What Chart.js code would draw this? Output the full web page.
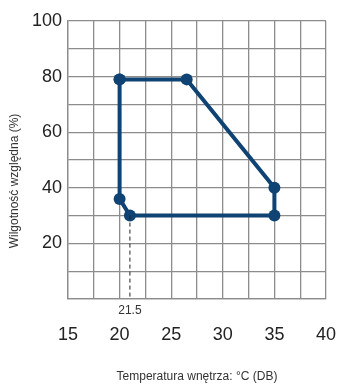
<!DOCTYPE html>
<html>
<head>
<meta charset="utf-8">
<script src="https://cdn.jsdelivr.net/npm/chart.js@4"></script>
<style>
  body { margin: 0; background: #fff; }
  #wrap { width: 337px; height: 385px; position: relative; }
</style>
</head>
<body>
<div id="wrap"><canvas id="chart"></canvas></div>
<script>
// polygon of the allowed operating range (closed loop)
const tempValues = [20, 26.5, 35, 35, 21, 20, 20];
const humidityValues = [79, 79, 40, 30, 30, 36, 79];
// marker for the 21.5 annotation
const markTemp = 21;
const markLabel = "21.5";
const markTop = 30;
// tick labels
const xTickLabels = [15, 20, 25, 30, 35, 40];
const yTickLabels = [20, 40, 60, 80, 100];

const yTitle = "Wilgotność względna (%)";
const xTitle = "Temperatura wnętrza: °C (DB)";

const lineColor = "#0f4373";
const gridColor = "#8c8c8c";

const outline = tempValues.map((t, i) => ({ x: t, y: humidityValues[i] }));

// extra texts: the 21.5 label and the axis titles
const textPlugin = {
    id: "texts",
    afterDraw(chart) {
        const ctx = chart.ctx;
        const xs = chart.scales.x;
        const area = chart.chartArea;
        ctx.save();
        ctx.fillStyle = "#333";
        ctx.textAlign = "center";
        ctx.textBaseline = "middle";
        ctx.font = "12px 'Liberation Sans', Arial, sans-serif";
        ctx.fillText(markLabel, xs.getPixelForValue(markTemp), area.bottom + 12);

        ctx.font = "12px 'Liberation Sans Narrow', 'Liberation Sans', sans-serif";
        ctx.fillText(xTitle, (area.left + area.right) / 2, 377);

        ctx.translate(15, 181);
        ctx.rotate(-Math.PI / 2);
        ctx.fillText(yTitle, 0, 0);
        ctx.restore();
    }
};

new Chart(document.getElementById("chart"), {
    type: "scatter",
    data: {
        datasets: [
            {
                data: [{ x: markTemp, y: markTop }, { x: markTemp, y: 0 }],
                showLine: true,
                borderColor: "#222",
                borderWidth: 1,
                borderDash: [4, 3],
                pointRadius: 0
            },
            {
                data: outline,
                showLine: true,
                borderColor: lineColor,
                backgroundColor: lineColor,
                borderWidth: 4,
                pointRadius: 6,
                pointBackgroundColor: lineColor,
                pointBorderWidth: 0
            }
        ]
    },
    options: {
        responsive: true,
        maintainAspectRatio: false,
        animation: false,
        layout: { padding: { top: 21, right: 11 } },
        plugins: {
            legend: { display: false },
            tooltip: { enabled: false }
        },
        scales: {
            x: {
                type: "linear",
                min: 15,
                max: 40,
                afterFit: (scale) => {
                    scale.height = 86;
                    scale.paddingLeft = 0;
                    scale.paddingRight = 0;
                },
                afterBuildTicks: (scale) => {
                    const ticks = [];
                    for (let v = 15; v <= 40; v += 2.5) ticks.push({ value: v });
                    scale.ticks = ticks;
                },
                ticks: {
                    autoSkip: false,
                    maxRotation: 0,
                    padding: 25,
                    color: "#222",
                    font: { size: 18, family: "'Liberation Sans', Arial, sans-serif" },
                    callback: (v) => xTickLabels.includes(v) ? String(v) : ""
                },
                grid: { color: gridColor, lineWidth: 1.3, drawTicks: false },
                border: { color: gridColor, width: 1.3 }
            },
            y: {
                min: 0,
                max: 100,
                afterFit: (scale) => {
                    scale.width = 68;
                    scale.paddingTop = 0;
                    scale.paddingBottom = 0;
                },
                ticks: {
                    stepSize: 10,
                    padding: 6,
                    color: "#222",
                    font: { size: 18, family: "'Liberation Sans', Arial, sans-serif" },
                    callback: (v) => yTickLabels.includes(v) ? String(v) : ""
                },
                grid: { color: gridColor, lineWidth: 1.3, drawTicks: false },
                border: { color: gridColor, width: 1.3 }
            }
        }
    },
    plugins: [textPlugin]
});
</script>
</body>
</html>
